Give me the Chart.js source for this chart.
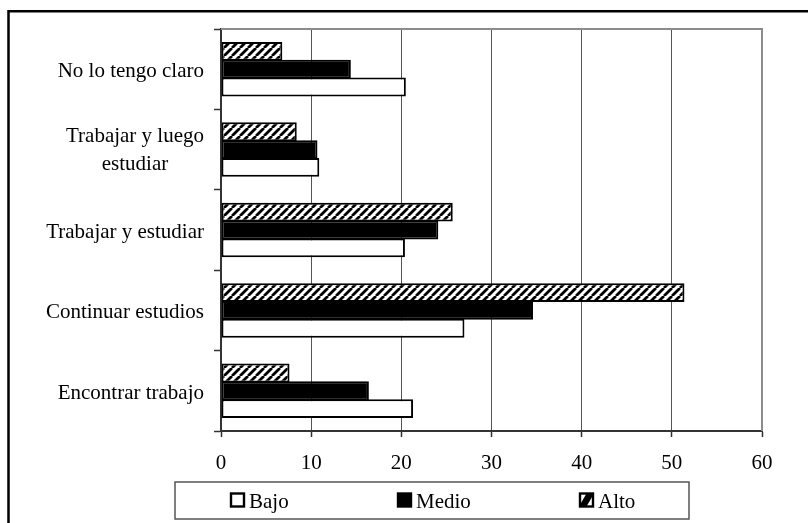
<!DOCTYPE html>
<html>
<head>
<meta charset="utf-8">
<script src="https://cdn.jsdelivr.net/npm/chart.js@4/dist/chart.umd.min.js"></script>
<style>
  html, body { margin: 0; padding: 0; background: #fff; }
  #wrap { width: 808px; height: 523px; position: relative; }
</style>
</head>
<body>
<div id="wrap"><canvas id="c" width="808" height="523"></canvas></div>
<script>
// Categories, top to bottom
const categories = [
  ['No lo tengo claro'],
  ['Trabajar y luego', 'estudiar'],
  ['Trabajar y estudiar'],
  ['Continuar estudios'],
  ['Encontrar trabajo']
];
const seriesNames = ['Bajo', 'Medio', 'Alto'];
const bajo  = [20.5, 10.9, 20.4, 27.0, 21.3];
const medio = [14.4, 10.7, 24.1, 34.6, 16.4];
const alto  = [6.8, 8.4, 25.7, 51.4, 7.6];
const xTicks = [0, 10, 20, 30, 40, 50, 60];

const FONT = "'Liberation Serif', 'Times New Roman', serif";

// Diagonal hatch fill for the "Alto" series
function makeHatch() {
  const t = document.createElement('canvas');
  t.width = 8; t.height = 8;
  const g = t.getContext('2d');
  g.fillStyle = '#fff';
  g.fillRect(0, 0, 8, 8);
  g.strokeStyle = '#000';
  g.lineWidth = 2.8;
  g.beginPath();
  for (let k = -1; k <= 1; k++) {
    g.moveTo(k * 8, 8);
    g.lineTo(k * 8 + 8, 0);
  }
  g.stroke();
  return g.createPattern(t, 'repeat');
}
const ctxMain = document.getElementById('c').getContext('2d');
const hatch = makeHatch();

// Frame, plot border, category labels and boxed legend
const decor = {
  id: 'decor',
  beforeDatasetsDraw(chart) {
    const { ctx, chartArea: a } = chart;
    ctx.save();
    ctx.strokeStyle = '#8c8c8c';
    ctx.lineWidth = 2;
    ctx.beginPath();
    ctx.moveTo(a.left, a.top);
    ctx.lineTo(a.right, a.top);
    ctx.lineTo(a.right, a.bottom);
    ctx.stroke();
    ctx.restore();
  },
  afterDraw(chart) {
    const { ctx } = chart;
    ctx.save();
    // outer frame
    ctx.strokeStyle = '#000';
    ctx.lineWidth = 2.5;
    ctx.beginPath();
    ctx.moveTo(8.5, 530);
    ctx.lineTo(8.5, 11.3);
    ctx.lineTo(820, 11.3);
    ctx.stroke();

    // category labels
    const y = chart.scales.y;
    ctx.font = '21px ' + FONT;
    ctx.fillStyle = '#000';
    ctx.textAlign = 'center';
    ctx.textBaseline = 'alphabetic';
    const rightEdge = 204;
    categories.forEach((lines, i) => {
      const cy = y.getPixelForTick(i);
      const maxW = Math.max(...lines.map(l => ctx.measureText(l).width));
      const cx = rightEdge - maxW / 2;
      const y0 = cy + 8 - (lines.length - 1) * 16;
      lines.forEach((l, j) => ctx.fillText(l, cx, y0 + j * 28));
    });

    // legend box
    ctx.strokeStyle = '#555';
    ctx.lineWidth = 1.5;
    ctx.strokeRect(175, 482, 514, 37);
    const itemX = [231, 398, 580];
    const ds = chart.data.datasets;
    const order = [2, 1, 0]; // Bajo, Medio, Alto
    ctx.textAlign = 'left';
    order.forEach((di, k) => {
      const d = ds[di];
      const x = itemX[k];
      const sy = 493.5;
      const s = 13;
      if (d.label === 'Alto') {
        ctx.fillStyle = '#fff';
        ctx.fillRect(x, sy, s, s);
        ctx.save();
        ctx.beginPath();
        ctx.rect(x, sy, s, s);
        ctx.clip();
        ctx.fillStyle = '#000';
        ctx.beginPath();
        ctx.moveTo(x - 1, sy + s);
        ctx.lineTo(x + s * 0.5, sy);
        ctx.lineTo(x + s + 1, sy);
        ctx.lineTo(x + s * 0.5, sy + s);
        ctx.closePath();
        ctx.fill();
        ctx.restore();
      } else {
        ctx.fillStyle = d.backgroundColor;
        ctx.fillRect(x, sy, s, s);
      }
      ctx.strokeStyle = '#000';
      ctx.lineWidth = 2.4;
      ctx.strokeRect(x, sy, s, s);
      ctx.fillStyle = '#000';
      ctx.fillText(d.label, x + s + 5, 508);
    });
    ctx.restore();
  }
};

new Chart(ctxMain, {
  type: 'bar',
  data: {
    labels: categories,
    datasets: [
      { label: seriesNames[2], data: alto, backgroundColor: hatch, borderColor: '#000', borderWidth: 2 },
      { label: seriesNames[1], data: medio, backgroundColor: '#000', borderColor: '#000', borderWidth: 2 },
      { label: seriesNames[0], data: bajo, backgroundColor: '#fff', borderColor: '#000', borderWidth: 2 }
    ]
  },
  options: {
    indexAxis: 'y',
    responsive: false,
    animation: false,
    events: [],
    layout: { padding: { left: 0, right: 46, top: 29, bottom: 0 } },
    datasets: { bar: { categoryPercentage: 0.665, barPercentage: 1.06, borderSkipped: false } },
    plugins: { legend: { display: false }, tooltip: { enabled: false } },
    scales: {
      x: {
        type: 'linear',
        min: 0, max: 60,
        afterBuildTicks(scale) { scale.ticks = xTicks.map(v => ({ value: v })); },
        afterFit(scale) { scale.height = 92; },
        grid: { color: '#555', lineWidth: 1, tickLength: 6, tickColor: '#333', tickWidth: 1.5 },
        border: { color: '#333', width: 2 },
        ticks: { color: '#000', padding: 14, font: { family: FONT, size: 21 }, maxRotation: 0 }
      },
      y: {
        type: 'category',
        offset: true,
        afterFit(scale) { scale.width = 221; },
        grid: { display: true, drawOnChartArea: false, offset: true, tickLength: 7, color: '#333', tickColor: '#333', tickWidth: 1.5 },
        border: { color: '#333', width: 2 },
        ticks: { display: false }
      }
    }
  },
  plugins: [decor]
});
</script>
</body>
</html>
